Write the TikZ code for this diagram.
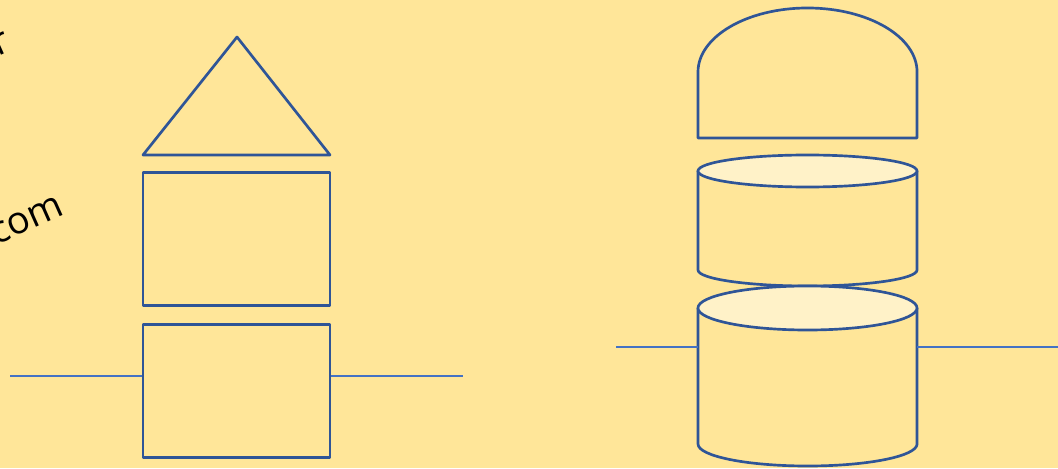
\documentclass[tikz,border=0pt]{standalone}
\usepackage{fontspec}
\setmainfont{Open Sans}
\usetikzlibrary{positioning}
\definecolor{PaleGold}{HTML}{FFE699}
\definecolor{OutlineBlue}{HTML}{2F5597}
\definecolor{LineBlue}{HTML}{4472C4}
\definecolor{CapCream}{HTML}{FFF2C8}

\begin{document}
\begin{tikzpicture}[x=0.025cm, y=0.025cm,
            outline/.style={draw=OutlineBlue, line width=1.9pt, line join=round},
            block/.style={outline, rectangle, minimum width=4.675cm, minimum height=3.325cm, inner sep=0pt},
            lidtop/.style={outline, fill=CapCream},
            ground/.style={draw=LineBlue, line width=0.8pt},
            scrap/.style={font=\fontsize{27}{32}\selectfont, text=black, inner sep=0pt, rotate=24}
        ]
            \fill[PaleGold] (0,0) rectangle (1058,468);
            \useasboundingbox (0,0) rectangle (1058,468);
            \clip (0,0) rectangle (1058,468);
            % cut-off words on the left edge
            \node[scrap, anchor=base east] (wordtop) at (13,418) {r};
            \node[scrap, anchor=base east] (wordcom) at (66,254) {com};
            % house: two boxes and a roof
            \node[block] (lower) at (236.5,77) {};
            \node[block, above=0.4cm of lower] (upper) {};
            \draw[outline] (143,313) -- (237,431) -- (330,313) -- cycle;
            \coordinate (leftend) at (10,92);
            \coordinate (rightend) at (463,92);
            \draw[ground] (leftend) -- (leftend -| lower.west);
            \draw[ground] (lower.east |- rightend) -- (rightend);
            % stack: dome and two drums
            \draw[outline] (698,330) -- (698,396) arc[start angle=180, end angle=0, x radius=2.7375cm, y radius=1.6cm] -- (917,330) -- cycle;
            \draw[outline] (698,297) -- (698,198) arc[start angle=180, end angle=360, x radius=2.7375cm, y radius=0.4cm] -- (917,297);
            \draw[lidtop] (807.5,297) ellipse [x radius=2.7375cm, y radius=0.4cm];
            \draw[outline] (698,160) -- (698,24) arc[start angle=180, end angle=360, x radius=2.7375cm, y radius=0.55cm] -- (917,160);
            \draw[lidtop] (807.5,160) ellipse [x radius=2.7375cm, y radius=0.55cm];
            \coordinate (stackleft) at (616,121);
            \coordinate (stackright) at (1058,121);
            \draw[ground] (stackleft) -- (698,121);
            \draw[ground] (917,121) -- (stackright);
        \end{tikzpicture}
\end{document}
